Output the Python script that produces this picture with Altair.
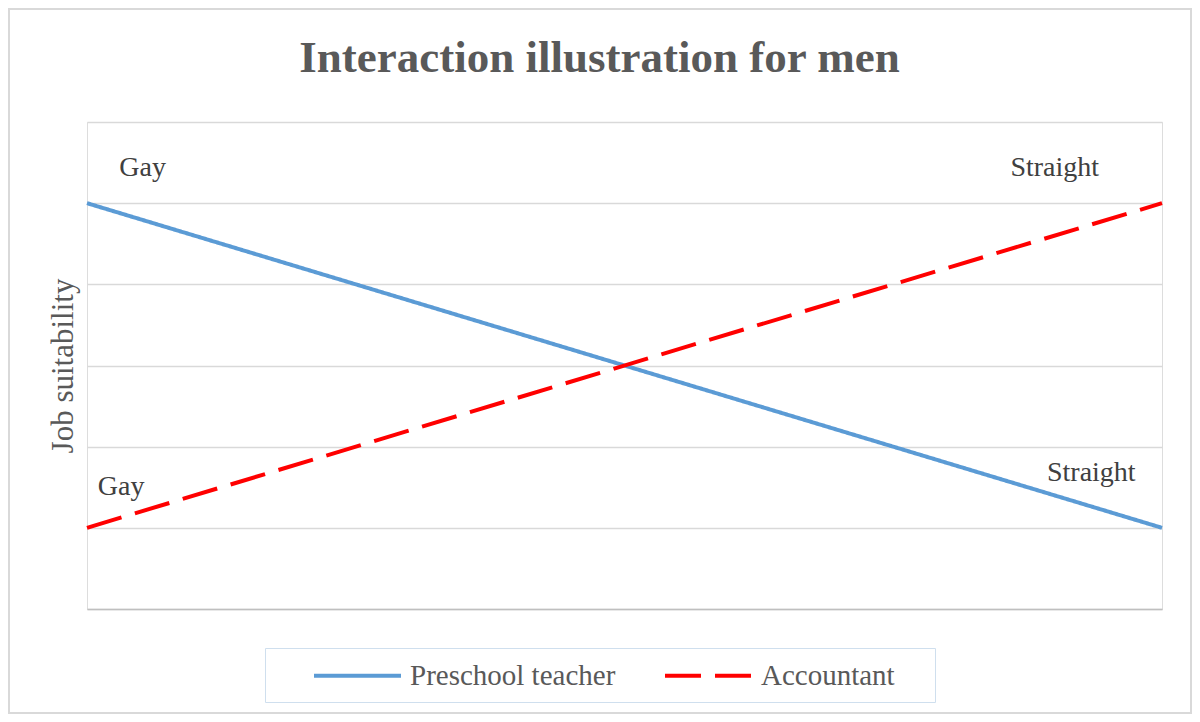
import altair as alt
import pandas as pd

# ---- data ----
series = ["Preschool teacher", "Preschool teacher", "Accountant", "Accountant"]
xpos = [0, 1, 0, 1]
suitability = [5, 1, 1, 5]

note_text = ["Gay", "Straight", "Gay", "Straight"]
note_x = [0.030, 0.859, 0.010, 0.893]
note_y = [5.34, 5.34, 1.40, 1.58]

series_order = ["Preschool teacher", "Accountant"]
series_colors = ["#5B9BD5", "#FF0000"]
series_dash = [[1, 0], [36, 14]]

lines_df = pd.DataFrame({"series": series, "x": xpos, "y": suitability})
notes_df = pd.DataFrame({"label": note_text, "x": note_x, "y": note_y})

FONT = "Liberation Serif"

xscale = alt.Scale(domain=[0, 1], nice=False, zero=False)
yscale = alt.Scale(domain=[0, 6], nice=False)

lines = alt.Chart(lines_df).mark_line(strokeWidth=4).encode(
    x=alt.X("x:Q", scale=xscale,
            axis=alt.Axis(title=None, labels=False, ticks=False, grid=False,
                          domain=True, domainColor="#BFBFBF", domainWidth=1.5)),
    y=alt.Y("y:Q", scale=yscale,
            axis=alt.Axis(title="Job suitability", labels=False, ticks=False,
                          domain=False, grid=True, gridColor="#D9D9D9",
                          gridWidth=1.5, values=[0, 1, 2, 3, 4, 5, 6],
                          titleFont=FONT, titleFontSize=31, titleFontWeight="normal",
                          titleColor="#595959", titlePadding=8)),
    color=alt.Color("series:N", sort=series_order,
                    scale=alt.Scale(domain=series_order, range=series_colors),
                    legend=alt.Legend(title=" ", titleOrient="right", titlePadding=29,
                                      titleFontSize=10,
                                      orient="none", direction="horizontal",
                                      legendX=178, legendY=526,
                                      symbolType="M-3,0H3", symbolSize=841,
                                      symbolStrokeWidth=4, symbolOffset=65,
                                      labelOffset=36, labelFont=FONT, labelFontSize=29,
                                      labelColor="#595959", columnPadding=11,
                                      padding=11, strokeColor="#CFDFEE",
                                      labelLimit=400)),
    strokeDash=alt.StrokeDash("series:N", sort=series_order,
                              scale=alt.Scale(domain=series_order, range=series_dash),
                              legend=None),
    detail="series:N",
)

notes = alt.Chart(notes_df).mark_text(
    align="left", baseline="alphabetic", font=FONT, fontSize=28, color="#404040"
).encode(
    x=alt.X("x:Q", scale=xscale),
    y=alt.Y("y:Q", scale=yscale),
    text="label:N",
)

# light outer frame of the chart
frame = alt.Chart(pd.DataFrame({"f": [0]})).mark_rect(
    fill="transparent", stroke="#D9D9D9", strokeWidth=2
).encode(
    x=alt.value(-78), x2=alt.value(1104),
    y=alt.value(-113), y2=alt.value(591),
)

chart = alt.layer(frame, lines, notes).properties(
    width=1075,
    height=487,
    title=alt.TitleParams(
        "Interaction illustration for men",
        font=FONT, fontSize=45, fontWeight="bold", color="#595959",
        anchor="middle", frame="group", dx=-25, baseline="alphabetic", offset=-109,
    ),
    autosize=alt.AutoSizeParams(type="none"),
    padding={"left": 79, "top": 114, "right": 30, "bottom": 105},
).configure_view(
    stroke="#D9D9D9", strokeWidth=1.5
).configure(
    background="white"
)

chart.save("out.html", embed_options={"renderer": "svg", "actions": False})
